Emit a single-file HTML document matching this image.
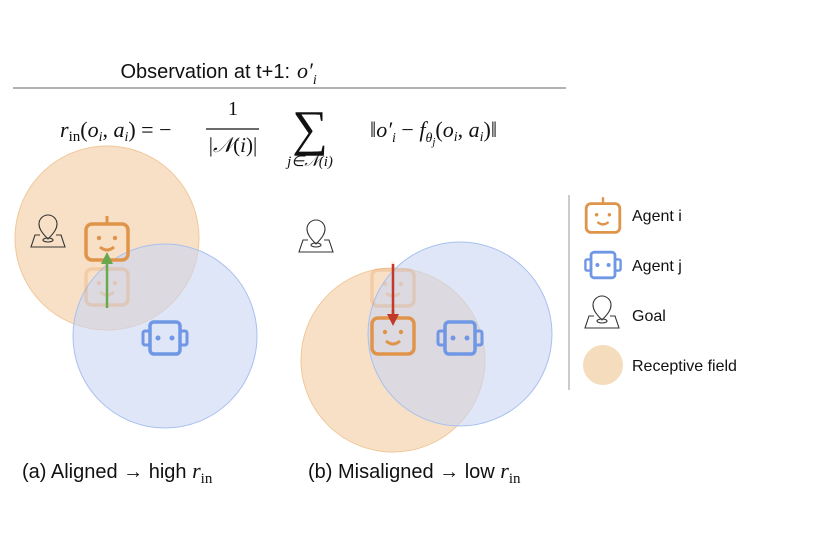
<!DOCTYPE html>
<html><head><meta charset="utf-8"><style>
html,body{margin:0;padding:0;background:#fff;}
svg{display:block;}
.s{font-family:"Liberation Sans",sans-serif;fill:#111;}
.m{font-family:"Liberation Serif",serif;fill:#111;}
</style></head><body>
<svg width="818" height="540" viewBox="0 0 818 540">
<defs>
<g id="agentI">
  <line x1="0" y1="-26" x2="0" y2="-18" stroke="#e0944a" stroke-width="3"/>
  <rect x="-21" y="-18" width="42" height="36" rx="6" fill="none" stroke="#e0944a" stroke-width="3.5"/>
  <circle cx="-8" cy="-4" r="2.2" fill="#e0944a"/><circle cx="8" cy="-4" r="2.2" fill="#e0944a"/>
  <path d="M-7 5 Q0 11 7 5" fill="none" stroke="#e0944a" stroke-width="3"/>
</g>
<g id="agentJ">
  <rect x="-15" y="-16" width="30" height="32" rx="4" fill="none" stroke="#6f97e6" stroke-width="3.5"/>
  <rect x="-22" y="-7" width="7" height="14" rx="2" fill="none" stroke="#6f97e6" stroke-width="3"/>
  <rect x="15" y="-7" width="7" height="14" rx="2" fill="none" stroke="#6f97e6" stroke-width="3"/>
  <circle cx="-7" cy="0" r="2.5" fill="#6f97e6"/><circle cx="7" cy="0" r="2.5" fill="#6f97e6"/>
</g>
<g id="goal">
  <path d="M0 6 C-7 -1 -9 -5 -9 -9 A9 9 0 0 1 9 -9 C9 -5 7 -1 0 6 Z" fill="none" stroke="#333" stroke-width="1.1"/>
  <path d="M-8 2 L-13 2 L-17 14 L17 14 L13 2 L8 2" fill="none" stroke="#333" stroke-width="1.1"/>
  <ellipse cx="0" cy="7" rx="5" ry="2" fill="none" stroke="#333" stroke-width="1.1"/>
</g>
</defs>

<text class="s" x="290" y="78" font-size="20" text-anchor="end">Observation at t+1:</text>
<text class="m" x="297" y="78" font-size="22" font-style="italic">o′<tspan font-size="14" dy="6">i</tspan></text>
<line x1="13" y1="88" x2="566" y2="88" stroke="#999" stroke-width="1.5"/>

<g>
<text class="m" x="60" y="137" font-size="22"><tspan font-style="italic">r</tspan><tspan font-size="15" dy="4">in</tspan><tspan dy="-4">(</tspan><tspan font-style="italic">o</tspan><tspan font-size="14" font-style="italic" dy="4">i</tspan><tspan dy="-4">, </tspan><tspan font-style="italic">a</tspan><tspan font-size="14" font-style="italic" dy="4">i</tspan><tspan dy="-4">) = −</tspan></text>
<text class="m" x="233" y="115" font-size="20" text-anchor="middle">1</text>
<line x1="206" y1="129" x2="259" y2="129" stroke="#111" stroke-width="1.3"/>
<text class="m" x="233" y="152" font-size="21" text-anchor="middle">|<tspan font-style="italic">𝒩</tspan>(<tspan font-style="italic">i</tspan>)|</text>
<text class="m" x="310" y="145" font-size="50" text-anchor="middle">∑</text>
<text class="m" x="310" y="166" font-size="15" text-anchor="middle" font-style="italic">j∈𝒩(i)</text>
<text class="m" x="370" y="137" font-size="22">‖<tspan font-style="italic">o′</tspan><tspan font-size="14" font-style="italic" dy="5">i</tspan><tspan dy="-5"> − </tspan><tspan font-style="italic">f</tspan><tspan font-size="14" font-style="italic" dy="5">θ</tspan><tspan font-size="11" font-style="italic" dy="3">j</tspan><tspan dy="-8">(</tspan><tspan font-style="italic">o</tspan><tspan font-size="14" font-style="italic" dy="4">i</tspan><tspan dy="-4">, </tspan><tspan font-style="italic">a</tspan><tspan font-size="14" font-style="italic" dy="4">i</tspan><tspan dy="-4">)‖</tspan></text>
</g>

<!-- Panel (a) -->
<g>
<circle cx="107" cy="238" r="92" fill="#f2c798" fill-opacity="0.55" stroke="#f0c89a"/>
<circle cx="165" cy="336" r="92" fill="#c9d6f2" fill-opacity="0.6" stroke="#a8c0ee"/>
<use href="#goal" x="48" y="233"/>
<use href="#agentI" x="107" y="287" opacity="0.25"/>
<use href="#agentI" x="107" y="242"/>
<line x1="107" y1="308" x2="107" y2="262" stroke="#6aa84f" stroke-width="2.5"/>
<polygon points="107,252 101,264 113,264" fill="#6aa84f"/>
<use href="#agentJ" x="165" y="338"/>
</g>

<!-- Panel (b) -->
<g>
<circle cx="393" cy="360" r="92" fill="#f2c798" fill-opacity="0.55" stroke="#f0c89a"/>
<circle cx="460" cy="334" r="92" fill="#c9d6f2" fill-opacity="0.6" stroke="#a8c0ee"/>
<use href="#goal" x="316" y="238"/>
<use href="#agentI" x="393" y="288" opacity="0.25"/>
<use href="#agentI" x="393" y="336"/>
<line x1="393" y1="264" x2="393" y2="316" stroke="#c0392b" stroke-width="2.5"/>
<polygon points="393,326 387,314 399,314" fill="#c0392b"/>
<use href="#agentJ" x="460" y="338"/>
</g>

<!-- Legend -->
<g>
<line x1="569" y1="195" x2="569" y2="390" stroke="#ccc" stroke-width="2"/>
<g transform="translate(603 218) scale(0.8)"><use href="#agentI"/></g>
<text class="s" x="632" y="221" font-size="16">Agent i</text>
<g transform="translate(603 265) scale(0.8)"><use href="#agentJ"/></g>
<text class="s" x="632" y="271" font-size="16">Agent j</text>
<g transform="translate(602 314)"><use href="#goal"/></g>
<text class="s" x="632" y="321" font-size="16">Goal</text>
<circle cx="603" cy="365" r="20" fill="#f5dcbd"/>
<text class="s" x="632" y="371" font-size="16">Receptive field</text>
</g>

<text class="s" x="22" y="478" font-size="20">(a) Aligned → high <tspan font-family="Liberation Serif" font-style="italic" font-size="22">r</tspan><tspan font-family="Liberation Serif" font-size="15" dy="5">in</tspan></text>
<text class="s" x="308" y="478" font-size="20">(b) Misaligned → low <tspan font-family="Liberation Serif" font-style="italic" font-size="22">r</tspan><tspan font-family="Liberation Serif" font-size="15" dy="5">in</tspan></text>
</svg>
</body></html>
